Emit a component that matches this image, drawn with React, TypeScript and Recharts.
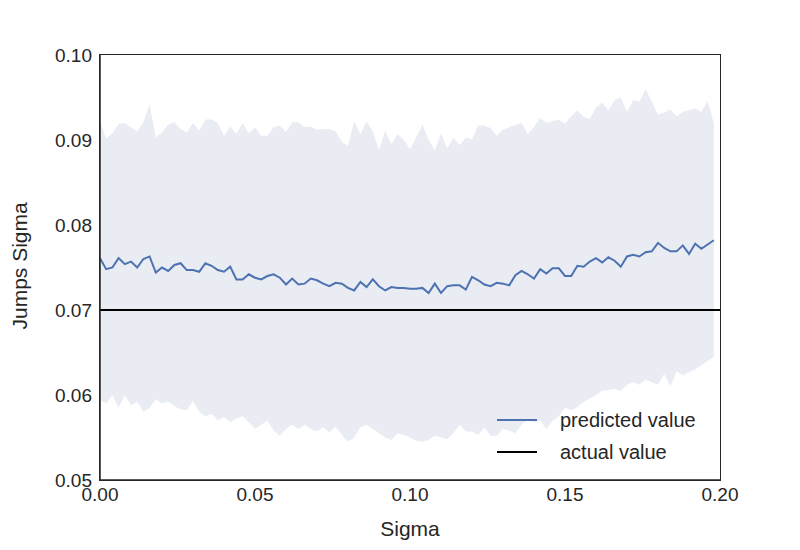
import { ComposedChart, Area, Line, XAxis, YAxis, ReferenceLine } from "recharts";

const sigmaStep = 0.002;

const predicted = [
  0.0761, 0.0748, 0.075, 0.0761, 0.0754, 0.0757, 0.075, 0.076, 0.0763, 0.0744,
  0.075, 0.0746, 0.0753, 0.0755, 0.0747, 0.0747, 0.0745, 0.0755, 0.0752, 0.0747,
  0.0745, 0.0751, 0.0736, 0.0736, 0.0742, 0.0738, 0.0736, 0.074, 0.0742, 0.0738,
  0.073, 0.0737, 0.073, 0.0731, 0.0737, 0.0735, 0.0731, 0.0728, 0.0732, 0.0731,
  0.0726, 0.0723, 0.0733, 0.0727, 0.0736, 0.0728, 0.0723, 0.0727, 0.0726, 0.0726,
  0.0725, 0.0725, 0.0726, 0.072, 0.0731, 0.072, 0.0728, 0.0729, 0.0729, 0.0724,
  0.0739, 0.0735, 0.073, 0.0728, 0.0732, 0.0731, 0.0729, 0.0741, 0.0746, 0.0742,
  0.0737, 0.0748, 0.0743, 0.0749, 0.0749, 0.074, 0.074, 0.0752, 0.0751, 0.0757,
  0.0761, 0.0756, 0.0762, 0.0758, 0.0751, 0.0763, 0.0765, 0.0763, 0.0768, 0.0769,
  0.0779, 0.0773, 0.0769, 0.0769, 0.0776, 0.0766, 0.0778, 0.0772, 0.0777, 0.0782,
];

const upper = [
  0.0922, 0.0902, 0.0908, 0.0919, 0.092, 0.0915, 0.091, 0.0921, 0.0942, 0.0903,
  0.0909, 0.0918, 0.0921, 0.0913, 0.0909, 0.092, 0.0911, 0.0924, 0.0924, 0.092,
  0.0905, 0.0916, 0.0907, 0.092, 0.0908, 0.0915, 0.0905, 0.0905, 0.0915, 0.0917,
  0.0909, 0.0921, 0.0921, 0.0915, 0.0916, 0.0912, 0.0913, 0.0913, 0.091, 0.0898,
  0.0893, 0.0922, 0.0907, 0.0922, 0.091, 0.0888, 0.0911, 0.0895, 0.0907, 0.09,
  0.0889, 0.0903, 0.0918, 0.09, 0.0888, 0.0908, 0.089, 0.0903, 0.0894, 0.0903,
  0.0901, 0.0917, 0.0917, 0.0914, 0.0905, 0.0912, 0.0915, 0.0918, 0.092, 0.0907,
  0.0915, 0.0926, 0.092, 0.0922, 0.0924, 0.0919, 0.0928, 0.0935, 0.0927, 0.0925,
  0.0938, 0.0944, 0.0935, 0.0947, 0.095, 0.0933, 0.0947, 0.0945, 0.096, 0.0945,
  0.093, 0.0932, 0.0936, 0.0928, 0.0933, 0.0935, 0.0937, 0.0933, 0.0946, 0.092,
];

const lower = [
  0.0594, 0.059, 0.06, 0.0585, 0.06, 0.0588, 0.0592, 0.058, 0.0585, 0.0595,
  0.059, 0.0592, 0.0587, 0.0583, 0.0582, 0.0593, 0.058, 0.0575, 0.0578, 0.057,
  0.0574, 0.0568, 0.0572, 0.0575, 0.0568, 0.056, 0.0565, 0.057, 0.0558, 0.0552,
  0.056, 0.0565, 0.056, 0.0565, 0.056, 0.0557, 0.0562, 0.0556, 0.0563, 0.0553,
  0.0545, 0.055, 0.0562, 0.0565, 0.056, 0.0555, 0.055, 0.0547, 0.0555, 0.0553,
  0.055, 0.0546, 0.0545, 0.0547, 0.0552, 0.055, 0.0548, 0.0555, 0.0565, 0.0557,
  0.0557, 0.0553, 0.0562, 0.0552, 0.0552, 0.056, 0.0558, 0.0555, 0.0565, 0.0572,
  0.0568, 0.057, 0.056, 0.057, 0.0575, 0.0585, 0.0582, 0.0586, 0.0592, 0.0596,
  0.06, 0.0605, 0.0606, 0.0607, 0.0605, 0.0612, 0.0615, 0.0612, 0.0618, 0.0615,
  0.0612, 0.0625, 0.061, 0.0628, 0.0623, 0.0627, 0.063, 0.0635, 0.064, 0.0645,
];

const xTicks = [0, 0.05, 0.1, 0.15, 0.2];
const yTicks = [0.05, 0.06, 0.07, 0.08, 0.09, 0.1];
const actualValue = 0.07;

const data = predicted.map((p, i) => ({
  sigma: i * sigmaStep,
  predicted: p,
  band: [lower[i], upper[i]],
}));

const font = "'Liberation Sans', Arial, sans-serif";
const tick = { fill: "#262626", fontSize: 19, fontFamily: font };

function LegendBox() {
  const rows = [
    { label: "predicted value", color: "#4c72b0" },
    { label: "actual value", color: "#000000" },
  ];
  return (
    <div style={{ position: "absolute", left: 497, top: 404, fontFamily: font, fontSize: 20, color: "#262626" }}>
      {rows.map((r) => (
        <div key={r.label} style={{ display: "flex", alignItems: "center", height: 32 }}>
          <div style={{ width: 40, height: 2, background: r.color, marginRight: 23 }} />
          {r.label}
        </div>
      ))}
    </div>
  );
}

export default function App() {
  return (
    <div style={{ position: "absolute", left: 0, top: 0, width: 800, height: 550, background: "#fff" }}>
      <ComposedChart width={800} height={550} data={data} margin={{ top: 55, right: 80, bottom: 0, left: 0 }}>
        <XAxis
          dataKey="sigma" type="number" domain={[0, 0.2]} ticks={xTicks}
          tickFormatter={(v: number) => v.toFixed(2)} tick={tick} tickLine={false}
          axisLine={{ stroke: "#262626", strokeWidth: 1.5 }} height={70}
          label={{ value: "Sigma", position: "insideBottom", offset: 14, style: { ...tick, fontSize: 21 } }}
        />
        <YAxis
          type="number" domain={[0.05, 0.1]} ticks={yTicks} tickFormatter={(v: number) => v.toFixed(2)}
          tick={tick} tickLine={false} axisLine={{ stroke: "#262626", strokeWidth: 1.5 }} width={100}
          label={{ value: "Jumps Sigma", angle: -90, position: "insideLeft", offset: 20, dy: 62, style: { ...tick, fontSize: 21 } }}
        />
        <Area dataKey="band" stroke="none" fill="#eaecf4" fillOpacity={1} isAnimationActive={false} />
        <ReferenceLine y={actualValue} stroke="#000" strokeWidth={2} />
        <Line dataKey="predicted" stroke="#4c72b0" strokeWidth={2} dot={false} isAnimationActive={false} />
      </ComposedChart>
      <div style={{ position: "absolute", left: 99, top: 54, width: 620, height: 425, border: "1.5px solid #262626", pointerEvents: "none" }} />
      <LegendBox />
    </div>
  );
}
